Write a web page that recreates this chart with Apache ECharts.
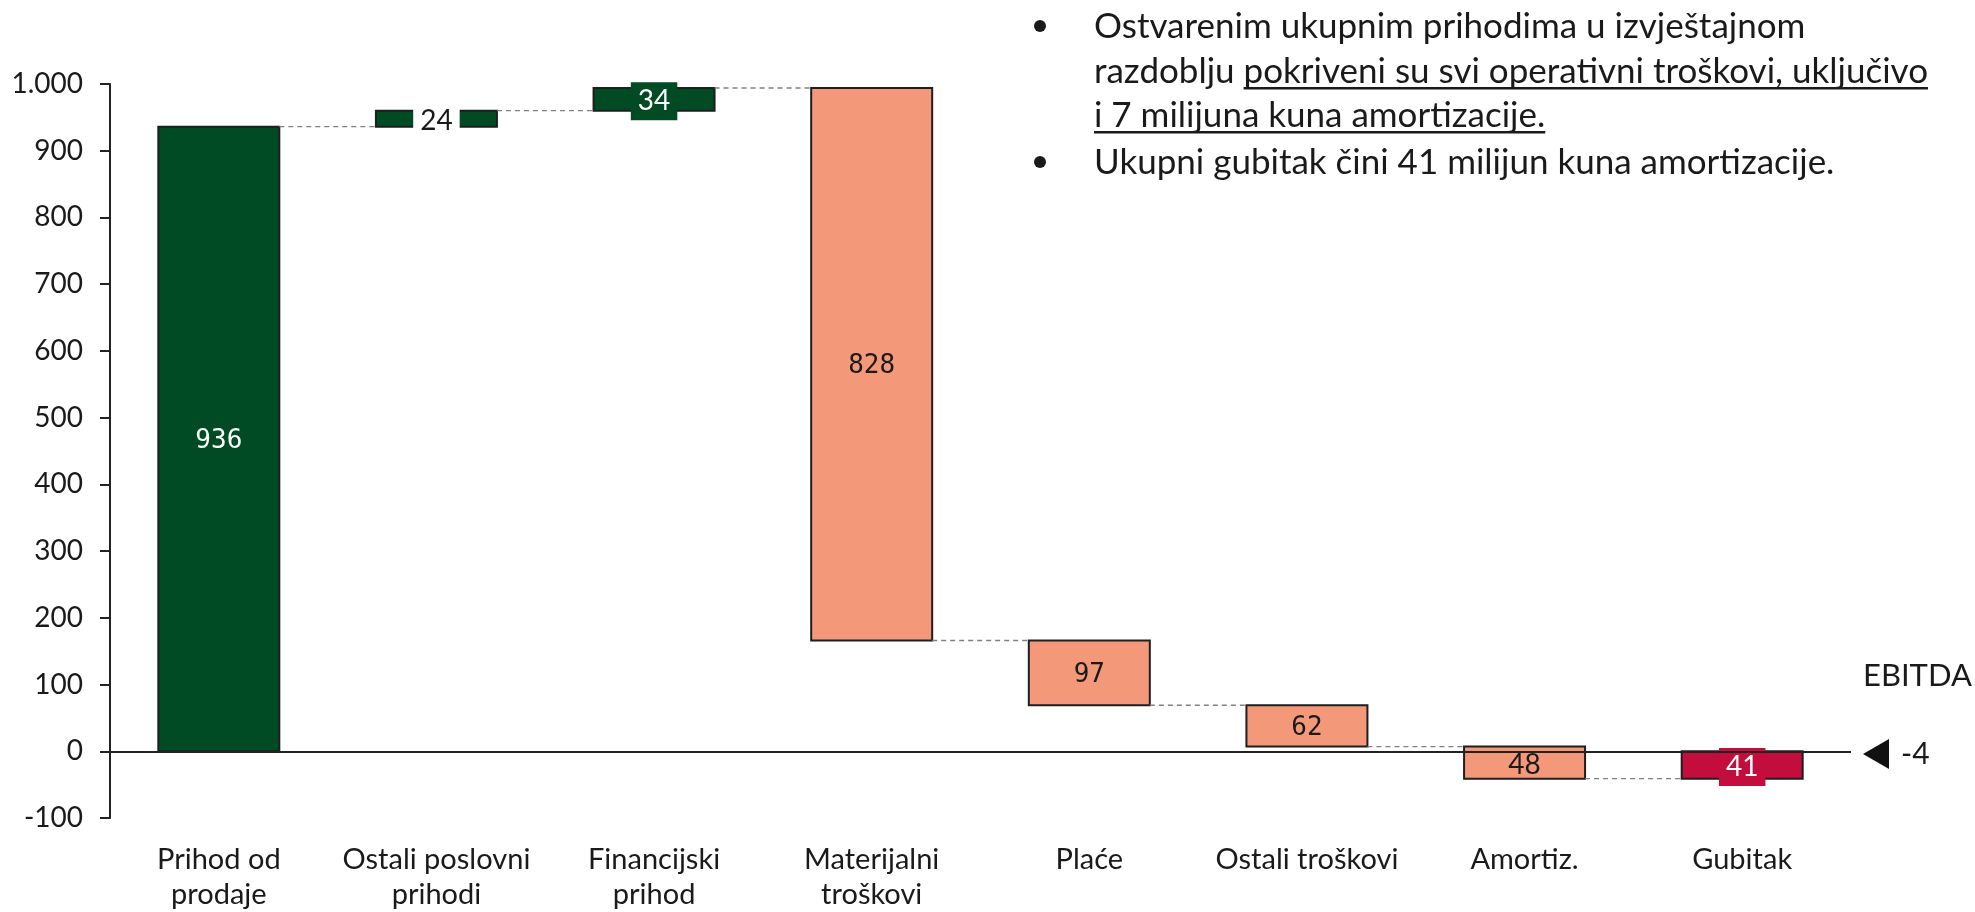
<!DOCTYPE html>
<html><head><meta charset="utf-8">
<script src="https://cdn.jsdelivr.net/npm/echarts@6/dist/echarts.min.js"></script>
<style>html,body{margin:0;padding:0;background:#fff}#c{width:1975px;height:912px}</style>
</head><body><div id="c"></div>
<script>
// ---------- data ----------
const categories = ['Prihod od\nprodaje', 'Ostali poslovni\nprihodi', 'Financijski\nprihod', 'Materijalni\ntroškovi', 'Plaće', 'Ostali troškovi', 'Amortiz.', 'Gubitak'];
const changes = [936, 24, 34, -828, -97, -62, -48, 41];
const yMin = -100, yMax = 1000, yInterval = 100;
const ebitdaLabel = 'EBITDA';
const ebitdaValue = -4;
const noteBullet1 = [
  [{t: 'Ostvarenim ukupnim prihodima u izvještajnom', u: false}],
  [{t: 'razdoblju ', u: false}, {t: 'pokriveni su svi operativni troškovi, uključivo', u: true}],
  [{t: 'i 7 milijuna kuna amortizacije.', u: true}]
];
const noteBullet2 = [
  [{t: 'Ukupni gubitak čini 41 milijun kuna amortizacije.', u: false}]
];

// ---------- styles ----------
const SANS = 'Lato, "Liberation Sans", sans-serif';
const MONO = '"DejaVu Sans Mono", monospace';
const TXT = '#1a1a1a';
const GREEN = '#004b23', SALMON = '#f4987a', RED = '#c20d3d';
const barColors = [GREEN, GREEN, GREEN, SALMON, SALMON, SALMON, SALMON, RED];
const labelStyles = [
  {font: '26px ' + MONO, fill: '#fff'},
  {font: '28px ' + SANS, fill: TXT, bg: '#fff'},
  {font: '28px ' + SANS, fill: '#fff', bg: GREEN},
  {font: '26px ' + MONO, fill: TXT},
  {font: '26px ' + MONO, fill: TXT},
  {font: '26px ' + MONO, fill: TXT},
  {font: '28px ' + SANS, fill: TXT},
  {font: '28px ' + SANS, fill: '#fff', bg: RED}
];

// ---------- derived steps ----------
let cum = 0;
const steps = changes.map((v, i) => { const s = cum; cum += v; return [i, s, cum, Math.abs(v)]; });

const chart = echarts.init(document.getElementById('c'));

function renderItem(params, api) {
  const i = api.value(0), s = api.value(1), e = api.value(2), lab = api.value(3);
  const p1 = api.coord([i, s]), p2 = api.coord([i, e]);
  const bw = api.size([1, 0])[0] * 0.556;
  const x = p1[0] - bw / 2;
  const y = Math.min(p1[1], p2[1]);
  const h = Math.abs(p1[1] - p2[1]);
  const ls = labelStyles[i];
  const children = [{
    type: 'rect', shape: {x: x, y: y, width: bw, height: h},
    style: {fill: barColors[i], stroke: '#1e1e1e', lineWidth: 2}
  }];
  if (i < steps.length - 1) {
    const nx = api.coord([i + 1, e])[0] - bw / 2;
    children.push({
      type: 'line', shape: {x1: x + bw, y1: p2[1], x2: nx, y2: p2[1]},
      style: {stroke: '#808080', lineWidth: 1.3, lineDash: [5, 4]}
    });
  }
  const ts = {text: String(lab), x: p1[0], y: y + h / 2 + 2, align: 'center', verticalAlign: 'middle', font: ls.font, fill: ls.fill};
  if (ls.bg) { ts.backgroundColor = ls.bg; ts.padding = [6, 7, 4, 7]; }
  children.push({type: 'text', style: ts, z2: 10});
  return {type: 'group', children: children};
}

// ---------- note text ----------
const NOTE_FONT_SIZE = 35;
const noteFont = NOTE_FONT_SIZE + 'px ' + SANS;
const mctx = document.createElement('canvas').getContext('2d');
mctx.font = noteFont;
const noteX = 1094, bulletX = 1040;
const graphics = [];
function addLines(lines, rows) {
  lines.forEach((segs, li) => {
    let cx = noteX;
    const r = rows[li];
    segs.forEach(seg => {
      const w = mctx.measureText(seg.t).width;
      graphics.push({type: 'text', x: cx, y: r, silent: true,
        style: {text: seg.t, font: noteFont, fill: TXT, align: 'left', verticalAlign: 'middle'}});
      if (seg.u) {
        const tw = mctx.measureText(seg.t.replace(/\s+$/, '')).width;
        graphics.push({type: 'rect', silent: true, shape: {x: cx, y: r + 15, width: tw, height: 2.5}, style: {fill: TXT}});
      }
      cx += w;
    });
  });
  graphics.push({type: 'circle', silent: true, shape: {cx: bulletX, cy: rows[0] - 1, r: 6}, style: {fill: TXT}});
}

chart.setOption({
  animation: false,
  backgroundColor: '#fff',
  grid: {left: 110, right: 124, top: 84, bottom: 93, containLabel: false},
  xAxis: {
    type: 'category', data: categories,
    axisLine: {show: false}, axisTick: {show: false},
    axisLabel: {fontFamily: SANS, fontSize: 29, lineHeight: 35, color: TXT, margin: 24, interval: 0}
  },
  yAxis: {
    type: 'value', min: yMin, max: yMax, interval: yInterval,
    axisLine: {show: true, lineStyle: {color: '#222', width: 2}},
    axisTick: {show: true, length: 10, lineStyle: {color: '#222', width: 2}},
    splitLine: {show: false},
    axisLabel: {fontFamily: SANS, fontSize: 28, color: TXT, margin: 27,
      formatter: v => v >= 1000 ? String(v).replace(/(\d)(\d{3})$/, '$1.$2') : String(v)}
  },
  series: [{
    type: 'custom', renderItem: renderItem, data: steps,
    encode: {x: 0, y: [1, 2]},
    markLine: {silent: true, symbol: 'none', label: {show: false},
      lineStyle: {color: '#222', width: 2, type: 'solid'}, data: [{yAxis: 0}]}
  }]
});

// note text lines (vertical centres)
addLines(noteBullet1, [27, 72, 116]);
addLines(noteBullet2, [163]);

// EBITDA marker
const py = chart.convertToPixel({yAxisIndex: 0}, ebitdaValue);
const gridRight = 1975 - 124;
const tipX = gridRight + 12;
graphics.push({type: 'polygon', silent: true,
  shape: {points: [[tipX, py], [tipX + 26, py - 15], [tipX + 26, py + 15]]}, style: {fill: '#111'}});
graphics.push({type: 'text', x: tipX + 38, y: py, silent: true,
  style: {text: String(ebitdaValue), font: '30px ' + SANS, fill: TXT, align: 'left', verticalAlign: 'middle'}});
graphics.push({type: 'text', x: tipX, y: py - 78, silent: true,
  style: {text: ebitdaLabel, font: '31px ' + SANS, fill: TXT, align: 'left', verticalAlign: 'middle'}});

chart.setOption({graphic: graphics});
</script></body></html>
